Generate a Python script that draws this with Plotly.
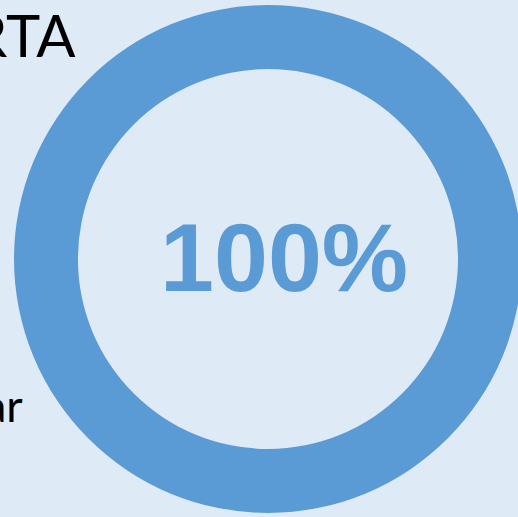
import plotly.graph_objects as go

W, H = 522, 517  # slightly wider than the 518 window so the ring runs off the right edge
labels = ["Completado"]
values = [100]
center_text = "100%"
title_text = "RTA"
side_text = "ar"

BG = "#DEEBF7"
RING = "#5B9BD5"

cx, cy, r = 268, 259, 254
fig = go.Figure(go.Pie(
    labels=labels, values=values, hole=0.748, sort=False,
    textinfo="none", hoverinfo="label+percent",
    marker=dict(colors=[RING], line=dict(width=0)),
    domain=dict(x=[max(0, (cx - r) / W), min(1, (cx + r) / W)],
                y=[max(0, (H - cy - r) / H), min(1, (H - cy + r) / H)]),
    showlegend=False,
))

fig.add_annotation(text=center_text, x=284 / W, y=(H - 257) / H, xref="paper", yref="paper",
                   xanchor="center", yanchor="middle", showarrow=False,
                   font=dict(family="Liberation Sans, Arial", size=97, color=RING, weight="bold"))
fig.add_annotation(text=title_text, x=78 / W, y=(H - 34) / H, xref="paper", yref="paper",
                   xanchor="right", yanchor="middle", showarrow=False,
                   font=dict(family="Lato", size=58, color="#000000"))
fig.add_annotation(text=side_text, x=25 / W, y=(H - 405) / H, xref="paper", yref="paper",
                   xanchor="right", yanchor="middle", showarrow=False,
                   font=dict(family="Lato", size=45, color="#000000"))

fig.update_layout(width=W, height=H, margin=dict(l=0, r=0, t=0, b=0),
                  paper_bgcolor=BG, plot_bgcolor=BG)
fig.write_html("out.html", config={"displayModeBar": False},
               post_script="document.body.style.margin='0';document.body.style.overflow='hidden';"
                           "document.body.style.background='%s';" % BG)
